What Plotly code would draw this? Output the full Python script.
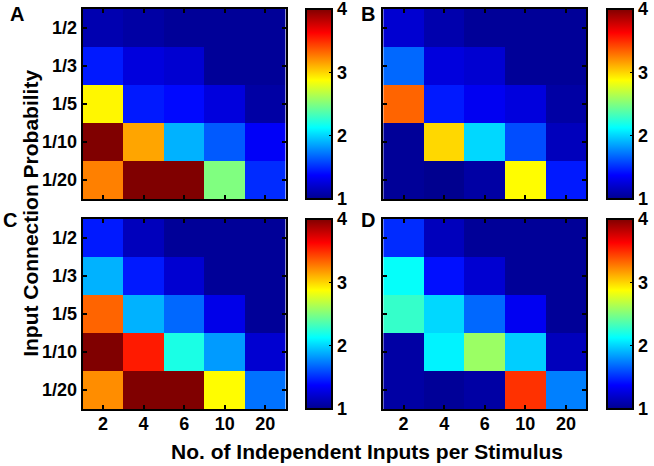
import plotly.graph_objects as go

W, H = 654, 466

inputs = ["2", "4", "6", "10", "20"]
probs = ["1/2", "1/3", "1/5", "1/10", "1/20"]

# rows top to bottom: 1/2, 1/3, 1/5, 1/10, 1/20
panel_a = [
    [1.11, 1.07, 1.03, 1.03, 1.03],
    [1.45, 1.26, 1.22, 1.03, 1.03],
    [2.90, 1.45, 1.40, 1.26, 1.07],
    [4.00, 3.14, 1.90, 1.64, 1.35],
    [3.25, 4.00, 4.00, 2.50, 1.50],
]
panel_b = [
    [1.22, 1.10, 1.03, 1.03, 1.03],
    [1.68, 1.26, 1.22, 1.03, 1.03],
    [3.33, 1.45, 1.33, 1.26, 1.07],
    [1.03, 2.99, 2.01, 1.60, 1.15],
    [1.03, 1.00, 1.07, 2.88, 1.45],
]
panel_c = [
    [1.45, 1.15, 1.03, 1.03, 1.03],
    [1.90, 1.45, 1.22, 1.03, 1.03],
    [3.33, 1.90, 1.68, 1.30, 1.03],
    [4.00, 3.55, 2.20, 1.83, 1.22],
    [3.21, 4.00, 4.00, 2.88, 1.71],
]
panel_d = [
    [1.50, 1.15, 1.03, 1.03, 1.03],
    [2.14, 1.42, 1.22, 1.03, 1.03],
    [2.28, 2.01, 1.68, 1.33, 1.03],
    [1.07, 2.09, 2.58, 1.98, 1.15],
    [1.07, 1.03, 1.07, 3.48, 1.75],
]

jet = [
    [0.0, "rgb(0,0,143)"],
    [0.125, "rgb(0,0,255)"],
    [0.375, "rgb(0,255,255)"],
    [0.625, "rgb(255,255,0)"],
    [0.875, "rgb(255,0,0)"],
    [1.0, "rgb(128,0,0)"],
]


def px_x(v):
    return v / W


def px_y(v):
    return 1 - v / H


# (label, data, x0, x1, ytop, ybot, cbar_x, show_x, show_y, label pos)
panels = [
    ("A", panel_a, 83, 287, 9, 199, 307, False, True, (17, 14)),
    ("B", panel_b, 385, 589, 9, 199, 610, False, False, (370, 14)),
    ("C", panel_c, 83, 287, 219, 409, 307, True, True, (10, 220)),
    ("D", panel_d, 385, 589, 219, 409, 610, True, False, (370, 220)),
]

fig = go.Figure()
annotations = []
axis_style = dict(
    type="category",
    showline=True,
    linewidth=2,
    linecolor="black",
    mirror="ticks",
    ticks="inside",
    ticklen=4,
    tickwidth=1.5,
    tickcolor="black",
    showgrid=False,
    zeroline=False,
    fixedrange=True,
    tickfont=dict(size=18),
)

for i, (name, z, x0, x1, yt, yb, cbx, show_x, show_y, lp) in enumerate(panels):
    n = "" if i == 0 else str(i + 1)
    fig.add_trace(go.Heatmap(
        z=z, x=inputs, y=probs,
        zmin=1, zmax=4,
        colorscale=jet,
        xaxis="x" + n, yaxis="y" + n,
        colorbar=dict(
            x=px_x(cbx), xanchor="left",
            y=px_y(yb), yanchor="bottom",
            len=(yb - yt) / H, lenmode="fraction",
            thickness=26,
            outlinewidth=2, outlinecolor="black",
            tickvals=[1, 2, 3, 4],
            ticks="inside", ticklen=4, tickcolor="black",
            tickfont=dict(size=18),
            ticklabeloverflow="allow",
            xpad=0, ypad=0,
        ),
        hoverinfo="skip",
    ))
    fig.layout["xaxis" + n] = dict(
        axis_style,
        domain=[px_x(x0), px_x(x1)],
        anchor="y" + n,
        showticklabels=show_x,
        ticklabelstandoff=-3,
        categoryorder="array", categoryarray=inputs,
    )
    fig.layout["yaxis" + n] = dict(
        axis_style,
        domain=[px_y(yb), px_y(yt)],
        anchor="x" + n,
        showticklabels=show_y,
        autorange="reversed",
        categoryorder="array", categoryarray=probs,
    )
    annotations.append(dict(
        text=name, x=px_x(lp[0]), y=px_y(lp[1]),
        font=dict(size=20),
    ))

annotations.append(dict(
    text="No. of Independent Inputs per Stimulus",
    x=px_x(369), y=px_y(451), font=dict(size=21),
))
annotations.append(dict(
    text="Input Connection Probability",
    x=px_x(30), y=px_y(213), textangle=-90, font=dict(size=21),
))
for a in annotations:
    a.update(xref="paper", yref="paper", showarrow=False,
             xanchor="center", yanchor="middle")

fig.update_layout(
    width=W, height=H,
    margin=dict(l=0, r=0, t=0, b=0),
    paper_bgcolor="white",
    plot_bgcolor="white",
    font=dict(family="Liberation Sans, Arial", size=16, color="black", weight="bold"),
    annotations=annotations,
)

# drop the browser's default body margin so the figure fills the window
fig.write_html(
    "out.html",
    config={"displayModeBar": False},
    post_script="document.body.style.margin = '0px';",
)
